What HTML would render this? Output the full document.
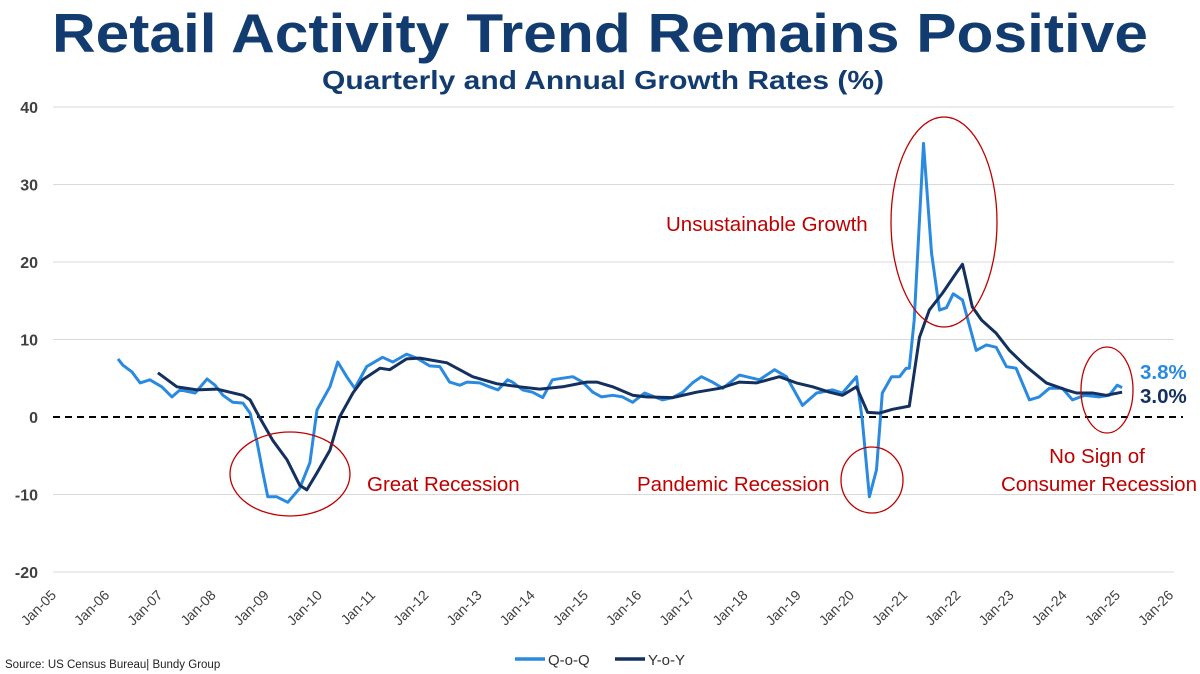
<!DOCTYPE html>
<html><head><meta charset="utf-8"><title>Retail Activity Trend Remains Positive</title>
<style>
html,body{margin:0;padding:0;background:#fff;}
svg{display:block;font-family:"Liberation Sans",sans-serif;}
</style></head>
<body>
<svg id="chart" width="1200" height="674" viewBox="0 0 1200 674" xmlns="http://www.w3.org/2000/svg">
<text x="600" y="52" text-anchor="middle" font-size="55" font-weight="bold" fill="#123c70" textLength="1096" lengthAdjust="spacingAndGlyphs">Retail Activity Trend Remains Positive</text>
<text x="603" y="89" text-anchor="middle" font-size="26" font-weight="bold" fill="#123c70" textLength="562" lengthAdjust="spacingAndGlyphs">Quarterly and Annual Growth Rates (%)</text>
<g id="grid"></g>
<g id="series"></g>
<g id="annot">
<ellipse cx="290" cy="474" rx="60" ry="42" fill="none" stroke="#c00000" stroke-width="1.3"/>
<ellipse cx="872" cy="480" rx="31" ry="33" fill="none" stroke="#c00000" stroke-width="1.3"/>
<ellipse cx="944" cy="222" rx="53" ry="105" fill="none" stroke="#c00000" stroke-width="1.3"/>
<ellipse cx="1107" cy="390" rx="26" ry="43" fill="none" stroke="#c00000" stroke-width="1.3"/>
<text x="367" y="491" font-size="20.5" fill="#c00000">Great Recession</text>
<text x="637" y="491" font-size="20.5" fill="#c00000">Pandemic Recession</text>
<text x="666" y="231" font-size="20.5" fill="#c00000">Unsustainable Growth</text>
<text x="1097" y="463" text-anchor="middle" font-size="20.5" fill="#c00000">No Sign of</text>
<text x="1099" y="491" text-anchor="middle" font-size="20.5" fill="#c00000">Consumer Recession</text>
<text x="1140" y="379" font-size="20.5" font-weight="bold" fill="#2a8ae0">3.8%</text>
<text x="1140" y="403" font-size="20.5" font-weight="bold" fill="#13305e">3.0%</text>
</g>
<text x="5" y="668" font-size="11.5" fill="#222">Source: US Census Bureau| Bundy Group</text>
<g>
<line x1="515" y1="659" x2="545" y2="659" stroke="#2a8ae0" stroke-width="3.5"/>
<text x="548" y="665" font-size="15" fill="#333">Q-o-Q</text>
<line x1="615" y1="659" x2="645" y2="659" stroke="#13305e" stroke-width="3.5"/>
<text x="648" y="665" font-size="15" fill="#333">Y-o-Y</text>
</g>
</svg>
<script>
const yTicks = [40, 30, 20, 10, 0, -10, -20];
const xTickLabels = ["Jan-05","Jan-06","Jan-07","Jan-08","Jan-09","Jan-10","Jan-11","Jan-12","Jan-13","Jan-14","Jan-15","Jan-16","Jan-17","Jan-18","Jan-19","Jan-20","Jan-21","Jan-22","Jan-23","Jan-24","Jan-25","Jan-26"];
// months since Jan-05
const qoqMonths = [14.2,15.3,17.4,19.2,21.4,24.1,26.4,28.2,31.6,34.3,36.1,37.9,40.1,42.4,44.0,45.5,46.9,48.0,50.0,52.5,55.2,57.5,59.1,62.0,63.8,65.8,67.6,70.3,73.9,76.2,79.3,81.6,84.5,86.8,89.0,91.3,92.9,95.8,98.0,99.9,102.1,103.2,105.5,107.7,110.0,112.2,114.3,116.8,119.0,121.3,123.3,125.8,128.0,130.3,133.0,135.7,137.0,139.3,141.6,143.8,145.8,148.3,150.6,154.4,158.9,162.3,165.0,168.6,171.8,175.4,177.6,180.8,182.1,183.7,185.3,186.6,188.7,190.5,192.0,192.7,193.8,195.9,197.7,199.5,201.1,202.6,204.7,207.8,210.1,212.3,214.6,216.8,219.8,222.0,224.3,227.2,229.5,232.2,235.5,237.8,239.6,240.7];
const qoqValues = [7.5,6.7,5.8,4.4,4.8,3.9,2.6,3.5,3.1,4.9,4.1,2.8,1.9,1.8,0.5,-3.0,-7.2,-10.3,-10.3,-11.0,-9.2,-5.9,0.9,3.9,7.1,5.2,3.7,6.5,7.7,7.1,8.1,7.6,6.6,6.5,4.5,4.1,4.5,4.4,3.9,3.5,4.8,4.5,3.5,3.2,2.5,4.8,5.0,5.2,4.5,3.2,2.6,2.8,2.6,1.9,3.1,2.5,2.2,2.5,3.2,4.4,5.2,4.5,3.7,5.4,4.8,6.1,5.2,1.5,3.1,3.5,3.1,5.2,-0.4,-10.3,-6.8,3.1,5.2,5.2,6.3,6.3,12.5,35.3,21.2,13.8,14.1,15.9,15.1,8.6,9.3,9.0,6.5,6.3,2.2,2.6,3.7,3.7,2.2,2.8,2.6,2.8,4.1,3.8];
const yoyMonths = [23.2,27.5,32.0,36.5,42.4,44.0,46.2,49.1,52.3,55.2,56.8,59.1,62.0,64.2,67.2,69.4,73.3,75.5,79.3,82.3,88.4,94.2,99.6,104.8,109.3,114.5,119.9,122.2,125.8,130.3,133.4,139.3,144.7,149.9,154.4,158.2,163.4,167.2,170.9,174.7,177.6,180.8,183.3,186.0,188.9,192.7,193.8,195.0,197.2,200.2,203.3,204.7,206.9,209.0,212.3,215.3,219.1,223.6,228.1,230.4,234.0,237.1,240.7];
const yoyValues = [5.7,3.9,3.5,3.6,2.8,2.2,-0.1,-3.0,-5.5,-8.8,-9.4,-7.2,-4.3,0.0,3.1,4.8,6.3,6.1,7.5,7.6,7.0,5.2,4.3,3.9,3.6,3.9,4.5,4.5,3.9,2.8,2.6,2.5,3.2,3.7,4.5,4.4,5.2,4.4,3.9,3.2,2.8,3.9,0.6,0.5,1.0,1.4,5.7,10.3,13.8,16.0,18.6,19.7,14.2,12.5,10.8,8.6,6.5,4.4,3.5,3.1,3.1,2.8,3.2];

const NS = "http://www.w3.org/2000/svg";
const X0 = 55, PX_PER_MONTH = 53.2 / 12;
const Y0 = 417, PX_PER_UNIT = 7.75;
function xScale(m) { return X0 + m * PX_PER_MONTH; }
function yScale(v) { return Y0 - v * PX_PER_UNIT; }

const grid = document.getElementById('grid');
yTicks.forEach(function (t) {
  const y = yScale(t);
  if (t !== 0) {
    const ln = document.createElementNS(NS, 'line');
    
    
    ln.setAttribute('x1', 53); ln.setAttribute('x2', 1174);
    ln.setAttribute('y1', y); ln.setAttribute('y2', y);
    ln.setAttribute('stroke', '#d9d9d9'); ln.setAttribute('stroke-width', '1');
    grid.appendChild(ln);
  }
  const tx = document.createElementNS(NS, 'text');
  
  
  tx.setAttribute('x', 38); tx.setAttribute('y', y + 6);
  tx.setAttribute('text-anchor', 'end');
  tx.setAttribute('font-size', '16'); tx.setAttribute('font-weight', 'bold');
  tx.setAttribute('fill', '#404040');
  tx.textContent = String(t);
  grid.appendChild(tx);
});
const zero = document.createElementNS(NS, 'line');


zero.setAttribute('x1', 53); zero.setAttribute('x2', 1183);
zero.setAttribute('y1', yScale(0)); zero.setAttribute('y2', yScale(0));
zero.setAttribute('stroke', '#000'); zero.setAttribute('stroke-width', '2');
zero.setAttribute('stroke-dasharray', '7,5');
grid.appendChild(zero);

xTickLabels.forEach(function (lab, i) {
  const x = xScale(i * 12);
  const tx = document.createElementNS(NS, 'text');
  
  
  tx.setAttribute('transform', 'translate(' + (x + 2) + ',596) rotate(-45)');
  tx.setAttribute('text-anchor', 'end');
  tx.setAttribute('font-size', '14');
  tx.setAttribute('fill', '#404040');
  tx.textContent = lab;
  grid.appendChild(tx);
});

function drawLine(months, values, color, name) {
  let d = '';
  for (let i = 0; i < months.length; i++) {
    d += (i ? 'L' : 'M') + xScale(months[i]).toFixed(1) + ',' + yScale(values[i]).toFixed(1);
  }
  const p = document.createElementNS(NS, 'path');
  
  
  p.setAttribute('d', d);
  p.setAttribute('fill', 'none');
  p.setAttribute('stroke', color);
  p.setAttribute('stroke-width', '3');
  p.setAttribute('stroke-linejoin', 'round');
  document.getElementById('series').appendChild(p);
}
drawLine(qoqMonths, qoqValues, '#2a8ae0', 'qoq-line');
drawLine(yoyMonths, yoyValues, '#13305e', 'yoy-line');
</script>
</body></html>
